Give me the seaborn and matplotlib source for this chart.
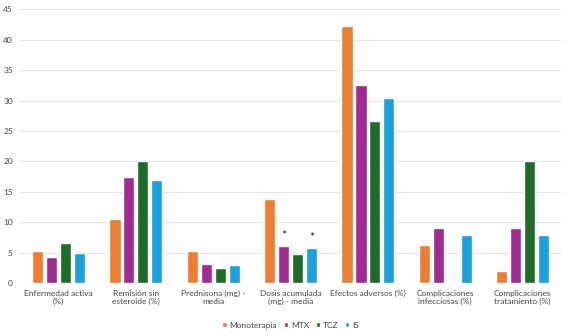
import matplotlib.pyplot as plt
import seaborn as sns
import pandas as pd

categories = ['Enfermedad activa\n(%)', 'Remisión sin\nesteroide (%)', 'Prednisona (mg) -\nmedia',
              'Dosis acumulada\n(mg) - media', 'Efectos adversos (%)', 'Complicaciones\ninfecciosas (%)',
              'Complicaciones\ntratamiento (%)']
groups = ['Monoterapia', 'MTX', 'TCZ', 'IS']
monoterapia = [5.3, 10.5, 5.3, 13.8, 42.2, 6.3, 1.9]
mtx = [4.3, 17.4, 3.1, 6.1, 32.6, 9.1, 9.1]
tcz = [6.6, 20.0, 2.5, 4.8, 26.7, 0.0, 20.0]
is_vals = [5.0, 16.9, 3.0, 5.8, 30.5, 7.9, 7.9]
colors = ['#ED7D31', '#A02B93', '#1E6B2A', '#1AA1DD']

rows = []
for g, vals in zip(groups, [monoterapia, mtx, tcz, is_vals]):
    for c, v in zip(categories, vals):
        rows.append({'cat': c, 'grupo': g, 'valor': v})
df = pd.DataFrame(rows)

sns.set_style('white')
plt.rcParams['font.family'] = ['Lato', 'DejaVu Sans']

fig = plt.figure(figsize=(5.67, 3.36), dpi=100)
ax = fig.add_axes([0.035, 0.158, 0.955, 0.814])
sns.barplot(data=df, x='cat', y='valor', hue='grupo', palette=colors, width=0.72, gap=0.2,
            saturation=1, ax=ax)

# asteriscos sobre MTX e IS en "Dosis acumulada"
for i in [1, 3]:
    p = ax.containers[i][3]
    ax.text(p.get_x() + p.get_width() / 2, p.get_height() + 1.6, '*', ha='center', va='center',
            fontsize=9, color='#222222')

ax.set_ylim(0, 45)
ax.set_yticks(range(0, 50, 5))
ax.set_xlim(-0.5, 6.5)
ax.yaxis.grid(True, color='#e6e6e6', linewidth=0.8)
ax.set_axisbelow(True)
for s in ax.spines.values():
    s.set_visible(False)
ax.tick_params(axis='both', length=0, labelsize=6, labelcolor='#444444', pad=5)
ax.set_xlabel('')
ax.set_ylabel('')
ax.legend(loc='upper center', bbox_to_anchor=(0.5, -0.115), ncol=4, frameon=False, fontsize=6,
          handlelength=0.55, handleheight=0.55, handletextpad=0.3, columnspacing=0.8, labelcolor='#444444')

fig.savefig('out.png', dpi=100)
